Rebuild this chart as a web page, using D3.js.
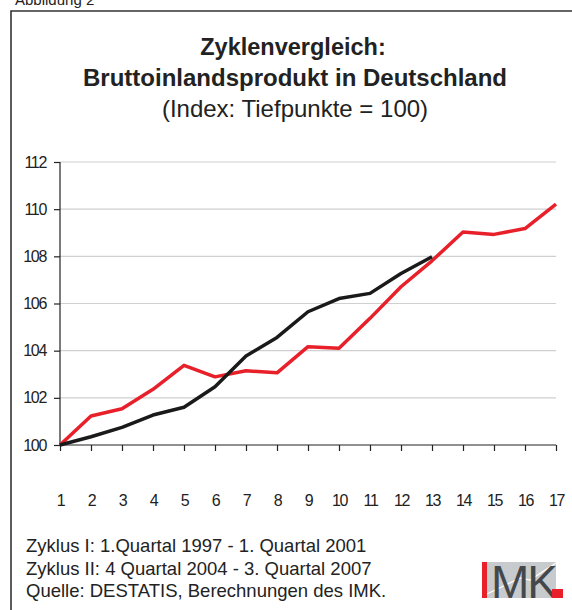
<!DOCTYPE html>
<html>
<head>
<meta charset="utf-8">
<script src="https://cdn.jsdelivr.net/npm/d3@7"></script>
<style>
  body { margin: 0; background: #fff; }
  text { font-family: "Liberation Sans", Arial, sans-serif; fill: #222; }
</style>
</head>
<body>
<div class="chart"></div>
<script>
// quarters since the trough
var quarters = d3.range(1, 18);
// Zyklus I (1997-2001), black
var zyklus1 = [100, 100.35, 100.75, 101.27, 101.6, 102.47, 103.77, 104.56, 105.65, 106.21, 106.43, 107.27, 107.98];
// Zyklus II (2004-2007), red
var zyklus2 = [100, 101.23, 101.54, 102.36, 103.38, 102.89, 103.15, 103.06, 104.17, 104.1, 105.37, 106.71, 107.81, 109.03, 108.93, 109.18, 110.21];
var yTicks = [100, 102, 104, 106, 108, 110, 112];
var notes = [
  "Zyklus I: 1.Quartal 1997 - 1. Quartal 2001",
  "Zyklus II: 4 Quartal 2004 - 3. Quartal 2007",
  "Quelle: DESTATIS, Berechnungen des IMK."
];

var svg = d3.select(".chart").append("svg")
    .attr("width", 572)
    .attr("height", 610);

svg.append("text")
    .attr("x", 15)
    .attr("y", 5)
    .style("font-size", "15px")
    .text("Abbildung 2");

// frame (open to the right and bottom)
svg.append("path")
    .attr("d", "M11,610 V11 H572")
    .style("fill", "none")
    .style("stroke", "#333")
    .style("stroke-width", "1.6px");

svg.append("text")
    .attr("x", 293).attr("y", 55)
    .attr("text-anchor", "middle")
    .style("font-size", "23.5px").style("font-weight", "bold")
    .text("Zyklenvergleich:");
svg.append("text")
    .attr("x", 295).attr("y", 86)
    .attr("text-anchor", "middle")
    .style("font-size", "24px").style("font-weight", "bold")
    .text("Bruttoinlandsprodukt in Deutschland");
svg.append("text")
    .attr("x", 295).attr("y", 117)
    .attr("text-anchor", "middle")
    .style("font-size", "24px")
    .text("(Index: Tiefpunkte = 100)");

var x = d3.scaleLinear().domain([1, 17]).range([60, 556]);
var y = d3.scaleLinear().domain([100, 112]).range([445, 162]);

// gridlines
svg.append("g")
  .selectAll("line")
  .data(yTicks.slice(1))
  .enter().append("line")
    .attr("x1", x(1))
    .attr("x2", x(17))
    .attr("y1", function(d) { return y(d); })
    .attr("y2", function(d) { return y(d); })
    .style("stroke", "#d0d0d0")
    .style("stroke-width", "1.2px");

var yAxis = svg.append("g")
    .attr("transform", "translate(60,0)")
    .call(d3.axisLeft(y).tickValues(yTicks).tickSize(6).tickPadding(8).tickFormat(d3.format("d")));

var xAxis = svg.append("g")
    .attr("transform", "translate(0,445)")
    .call(d3.axisBottom(x).tickValues(quarters).tickSize(6).tickPadding(44).tickFormat(d3.format("d")));

svg.selectAll(".domain, .tick line")
    .style("stroke", "#222")
    .style("stroke-width", "1.2px");
xAxis.select(".domain").attr("d", "M60,0H556");
yAxis.select(".domain").attr("d", "M0,445V162");

svg.selectAll(".tick text")
    .style("font-family", "'Liberation Sans', Arial, sans-serif")
    .style("font-size", "16px")
    .style("letter-spacing", "-1.3px")
    .style("fill", "#222");

var line = d3.line()
    .x(function(d, i) { return x(quarters[i]); })
    .y(function(d) { return y(d); });

svg.append("path")
    .datum(zyklus2)
    .attr("d", line)
    .style("fill", "none")
    .style("stroke", "#e8202a")
    .style("stroke-width", "3.5px")
    .style("stroke-linejoin", "round");

svg.append("path")
    .datum(zyklus1)
    .attr("d", line)
    .style("fill", "none")
    .style("stroke", "#1a1a1a")
    .style("stroke-width", "3.5px")
    .style("stroke-linejoin", "round");

// notes
svg.append("g")
  .selectAll("text")
  .data(notes)
  .enter().append("text")
    .attr("x", 26)
    .attr("y", function(d, i) { return 552 + i * 22.5; })
    .style("font-size", "18.5px")
    .text(function(d) { return d; });

// IMK logo
var logo = svg.append("g");
logo.append("rect")
    .attr("x", 487).attr("y", 562)
    .attr("width", 69).attr("height", 36)
    .style("fill", "#c8cbcd");
logo.append("path")
    .attr("d", "M487,594 L520,578 L530,580 L556,563")
    .style("fill", "none")
    .style("stroke", "#fff")
    .style("stroke-width", "1.2px");
logo.append("rect")
    .attr("x", 482).attr("y", 562)
    .attr("width", 5).attr("height", 36)
    .style("fill", "#e8202a");
logo.append("text")
    .attr("x", 491).attr("y", 598)
    .style("font-size", "46px")
    .style("letter-spacing", "-2px")
    .style("fill", "#44484b")
    .text("MK");
logo.append("rect")
    .attr("x", 552).attr("y", 589)
    .attr("width", 11).attr("height", 9)
    .style("fill", "#e8202a");
</script>
</body>
</html>
